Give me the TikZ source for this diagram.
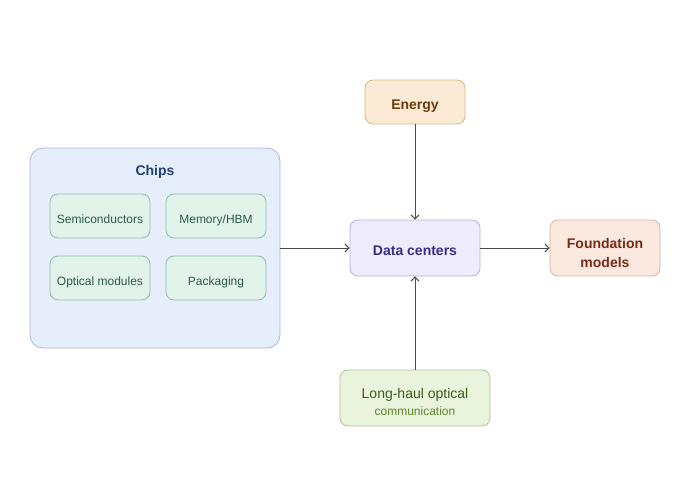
\documentclass[tikz,border=0pt]{standalone}
\usepackage{fontspec}
\setmainfont{Liberation Sans}
\usetikzlibrary{arrows.meta}
\definecolor{chipfill}{HTML}{E7EEFB}
\definecolor{chipdraw}{HTML}{A3B8DF}
\definecolor{chiptext}{HTML}{1F4179}
\definecolor{partfill}{HTML}{E2F3EA}
\definecolor{partdraw}{HTML}{8DBFA6}
\definecolor{parttext}{HTML}{2C5B48}
\definecolor{enfill}{HTML}{FBEBD6}
\definecolor{endraw}{HTML}{D9B487}
\definecolor{entext}{HTML}{6A3C0E}
\definecolor{dcfill}{HTML}{EEECFC}
\definecolor{dcdraw}{HTML}{B4AFE6}
\definecolor{dctext}{HTML}{382D88}
\definecolor{fmfill}{HTML}{FBE8DF}
\definecolor{fmdraw}{HTML}{E0AF9A}
\definecolor{fmtext}{HTML}{782C18}
\definecolor{lhfill}{HTML}{EAF3DC}
\definecolor{lhdraw}{HTML}{A9C78F}
\definecolor{lhtext}{HTML}{3C5C1E}
\definecolor{lhsub}{HTML}{5A8A2E}
\definecolor{wire}{HTML}{4A4A4A}
\begin{document}
\begin{tikzpicture}[x=1pt, y=-1pt, line join=round, line cap=round, >={Straight Barb[length=4pt,width=8pt]},
		box/.style={draw, rounded corners=8pt, inner sep=0pt, line width=.8pt, align=center},
		part/.style={box, fill=partfill, draw=partdraw, text=parttext, minimum width=100pt, minimum height=44pt, font=\fontsize{12}{14}\selectfont, text height=14.6pt, text depth=0pt},
		big/.style={font=\fontsize{14}{19}\selectfont\bfseries},
		one/.style={text height=15pt, text depth=0pt},
		wire/.style={->, draw=wire, line width=1pt}]
	\useasboundingbox (0,0) rectangle (680,480);
	\node[box, rounded corners=13pt, fill=chipfill, draw=chipdraw, minimum width=250pt, minimum height=200pt] (chips) at (155,248) {};
	\node[big, text=chiptext] (chipstitle) at (155,172) {Chips};
	\foreach \n/\x/\y/\t in {semi/100/216/Semiconductors, mem/216/216/{Memory/HBM}, opt/100/278/Optical modules, pack/216/278/Packaging}
		\node[part] (\n) at (\x,\y) {\t};
	\node[box, big, one, fill=enfill, draw=endraw, text=entext, minimum width=100pt, minimum height=44pt] (energy) at (415,102) {Energy};
	\node[box, big, one, fill=dcfill, draw=dcdraw, text=dctext, minimum width=130pt, minimum height=56pt] (dc) at (415,248) {Data centers};
	\node[box, big, fill=fmfill, draw=fmdraw, text=fmtext, minimum width=110pt, minimum height=56pt] (fm) at (605,248) {\rule{0pt}{20pt}Foundation\\models};
	\node[box, fill=lhfill, draw=lhdraw, text=lhtext, minimum width=150pt, minimum height=56pt] (lh) at (415,398)
		{\fontsize{14}{19}\selectfont\rule{0pt}{18pt}Long-haul optical\\[5pt]{\fontsize{12}{14}\selectfont\color{lhsub}communication}};
	\draw[wire] (chips.east) -- (dc.west);
	\draw[wire] (energy.south) -- (dc.north);
	\draw[wire] (lh.north) -- (dc.south);
	\draw[wire] (dc.east) -- (fm.west);
\end{tikzpicture}
\end{document}
